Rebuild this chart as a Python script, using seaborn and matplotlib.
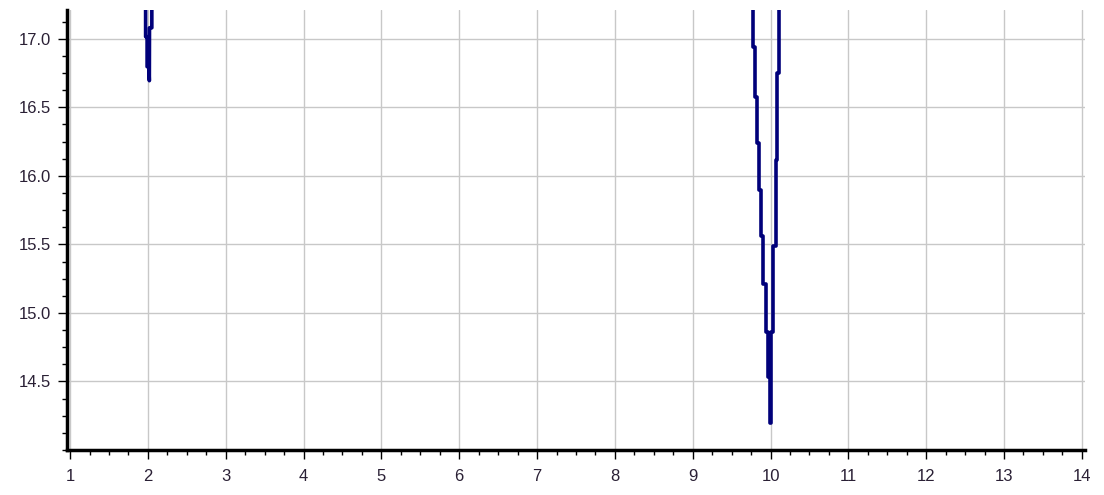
import pandas as pd
import seaborn as sns
import matplotlib
import matplotlib.pyplot as plt
from matplotlib.ticker import MultipleLocator

sns.set_style('whitegrid')
matplotlib.rcParams['font.family'] = ['Liberation Sans', 'DejaVu Sans']

# dip near x = 2 (corner points of the traced polyline)
x_dip2 = [1.97, 1.97, 1.989, 1.989, 2.012, 2.018, 2.02, 2.05, 2.05]
y_dip2 = [17.30, 17.015, 17.015, 16.796, 16.796, 16.694, 17.08, 17.08, 17.30]

# dip near x = 10
x_dip10 = [9.773, 9.773, 9.799, 9.799, 9.825, 9.825, 9.85, 9.85, 9.876, 9.876,
           9.90, 9.90, 9.94, 9.94, 9.966, 9.966, 9.99, 9.99,
           10.005, 10.005, 10.03, 10.03, 10.07, 10.07, 10.08, 10.08, 10.107, 10.107]
y_dip10 = [17.30, 16.94, 16.94, 16.577, 16.577, 16.24, 16.24, 15.90, 15.90, 15.564,
           15.564, 15.214, 15.214, 14.864, 14.864, 14.53, 14.53, 14.20,
           14.20, 14.864, 14.864, 15.49, 15.49, 16.118, 16.118, 16.752, 16.752, 17.30]

x_ticks = list(range(1, 15))
y_ticks = [14.5, 15.0, 15.5, 16.0, 16.5, 17.0]

df = pd.concat([
    pd.DataFrame({'x': x_dip2, 'y': y_dip2, 'seg': 'a'}),
    pd.DataFrame({'x': x_dip10, 'y': y_dip10, 'seg': 'b'}),
])

fig = plt.figure(figsize=(11.04, 4.95), dpi=100)
ax = fig.add_axes([0.0607, 0.0909, 0.922, 0.889])

sns.lineplot(data=df, x='x', y='y', units='seg', estimator=None, sort=False,
             color='#00007a', linewidth=2.6, ax=ax)

ax.set_xlim(0.96, 14.04)
ax.set_ylim(14.0, 17.21)
ax.set_xticks(x_ticks)
ax.set_yticks(y_ticks)
ax.set_yticklabels([f'{v:.1f}' for v in y_ticks])
ax.xaxis.set_minor_locator(MultipleLocator(0.25))
ax.yaxis.set_minor_locator(MultipleLocator(0.125))
ax.set_xlabel('')
ax.set_ylabel('')

ax.grid(True, which='major', color='#c8c8c8', linewidth=1)
ax.grid(False, which='minor')
for s in ['top', 'right']:
    ax.spines[s].set_visible(False)
for s in ['left', 'bottom']:
    ax.spines[s].set_color('black')
    ax.spines[s].set_linewidth(2.5)
ax.tick_params(which='major', length=6.5, width=1, color='black', labelsize=12,
               labelcolor='#2a2035', direction='out', left=True, bottom=True)
ax.tick_params(axis='x', which='major', pad=7)
ax.tick_params(axis='y', which='major', pad=5)
ax.tick_params(which='minor', length=3.5, width=1, color='black',
               direction='out', left=True, bottom=True)

fig.savefig('out.png', dpi=100)
